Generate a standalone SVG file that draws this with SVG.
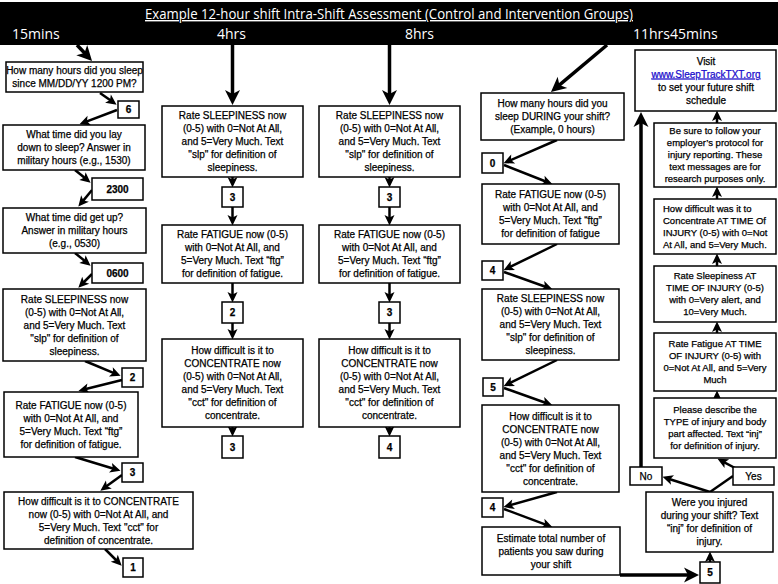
<svg xmlns="http://www.w3.org/2000/svg" width="778" height="584" viewBox="0 0 778 584">
<defs>
<style>
.box{fill:#fff;stroke:#000;stroke-width:1.5}
text{font-family:"Liberation Sans",Arial,sans-serif;font-size:10px;fill:#000;stroke:#000;stroke-width:0.25}
.m{text-anchor:middle}
.s{font-size:9.5px}
.n{font-weight:bold;text-anchor:middle}
.h{font-family:"Open Sans","Liberation Sans",sans-serif;fill:#fff;stroke:none;font-size:14px}
.c{stroke:#000;stroke-width:2.5;fill:none;marker-end:url(#as)}
.cb{stroke:#000;stroke-width:3.5;fill:none;marker-end:url(#ab)}
.ln{stroke:#000;stroke-width:2.5;fill:none}
</style>
<marker id="ab" markerUnits="userSpaceOnUse" markerWidth="17" markerHeight="17" viewBox="0 0 17 17" refX="11" refY="8.5" orient="auto"><path d="M1,1 L16,8.5 L1,16 L5,8.5 Z" fill="#000"/></marker>
<marker id="as" markerUnits="userSpaceOnUse" markerWidth="11" markerHeight="11" viewBox="0 0 11 11" refX="6.5" refY="5.5" orient="auto"><path d="M0.5,0.5 L11,5.5 L0.5,10.5 L3,5.5 Z" fill="#000"/></marker>
</defs>
<rect x="0" y="0" width="778" height="584" fill="#fff"/>
<g id="header">
<rect x="0" y="2" width="778" height="43" fill="#000"/>
<text class="h" x="389" y="19" text-anchor="middle" textLength="488" lengthAdjust="spacingAndGlyphs" text-decoration="underline">Example 12-hour shift Intra-Shift Assessment (Control and Intervention Groups)</text>
<text class="h" x="12" y="39">15mins</text>
<text class="h" x="217" y="39">4hrs</text>
<text class="h" x="405" y="39">8hrs</text>
<text class="h" x="633" y="39">11hrs45mins</text>
</g>
<g id="connectors">
<line class="cb" x1="77" y1="45" x2="88.6" y2="57.3"/>
<line class="cb" x1="232.5" y1="45" x2="232.5" y2="100"/>
<line class="cb" x1="389.5" y1="45" x2="389.5" y2="100"/>
<line class="cb" x1="607" y1="45" x2="554.8" y2="88.8"/>
<line class="c" x1="100" y1="93" x2="112.9" y2="102.1"/>
<line class="c" x1="117" y1="110" x2="83.7" y2="122.6"/>
<line class="c" x1="75" y1="170" x2="87.1" y2="179.8"/>
<line class="c" x1="92" y1="190" x2="81.2" y2="203.1"/>
<line class="c" x1="75" y1="253" x2="87.1" y2="262.8"/>
<line class="c" x1="92" y1="274" x2="81.5" y2="284.5"/>
<line class="c" x1="85" y1="361" x2="116.4" y2="374.1"/>
<line class="c" x1="122" y1="380" x2="82.8" y2="389.8"/>
<line class="c" x1="75" y1="457" x2="116.2" y2="469.5"/>
<line class="c" x1="122" y1="475" x2="104" y2="488.1"/>
<line class="c" x1="105" y1="549" x2="118.5" y2="562.5"/>
<line class="c" x1="232.5" y1="177" x2="232.5" y2="183"/>
<line class="c" x1="232.5" y1="207" x2="232.5" y2="221"/>
<line class="c" x1="232.5" y1="283" x2="232.5" y2="298"/>
<line class="c" x1="232.5" y1="323" x2="232.5" y2="335"/>
<line class="c" x1="232.5" y1="427" x2="232.5" y2="432"/>
<line class="c" x1="389.5" y1="177" x2="389.5" y2="183"/>
<line class="c" x1="389.5" y1="207" x2="389.5" y2="221"/>
<line class="c" x1="389.5" y1="283" x2="389.5" y2="298"/>
<line class="c" x1="389.5" y1="323" x2="389.5" y2="335"/>
<line class="c" x1="389.5" y1="427" x2="389.5" y2="432"/>
<line class="c" x1="557" y1="140" x2="507.7" y2="161.4"/>
<line class="c" x1="504" y1="165" x2="548.3" y2="182.5"/>
<line class="c" x1="557" y1="244" x2="507.6" y2="268.2"/>
<line class="c" x1="504" y1="272" x2="548.2" y2="287.7"/>
<line class="c" x1="557" y1="360" x2="507.6" y2="384.2"/>
<line class="c" x1="504" y1="388" x2="548.2" y2="403.7"/>
<line class="c" x1="557" y1="492" x2="507.8" y2="505.9"/>
<line class="c" x1="504" y1="509" x2="548.3" y2="525.6"/>
<line class="cb" x1="620" y1="575" x2="694" y2="575"/>
<line class="c" x1="710" y1="562" x2="710" y2="556"/>
<line class="c" x1="710" y1="492" x2="666.8" y2="478.2"/>
<line class="ln" x1="710" y1="492" x2="733" y2="476"/>
<line class="c" x1="735" y1="468" x2="721.5" y2="460.9"/>
<line class="cb" x1="641" y1="467" x2="641" y2="117"/>
<line class="c" x1="717" y1="398" x2="717" y2="395"/>
<line class="c" x1="717" y1="333" x2="717" y2="326"/>
<line class="c" x1="717" y1="266" x2="717" y2="258"/>
<line class="c" x1="717" y1="199" x2="717" y2="191"/>
<line class="c" x1="717" y1="123" x2="717" y2="115"/>
</g>
<g id="l1"><rect class="box" x="6" y="62" width="137" height="30"/><text class="m" x="74.5" y="74">How many hours did you sleep</text><text class="m" x="74.5" y="87">since MM/DD/YY 1200 PM?</text></g>
<g id="l1a"><rect class="box" x="118" y="101" width="21" height="17"/><text class="n" x="128.5" y="113">6</text></g>
<g id="l2"><rect class="box" x="3" y="125" width="142" height="45"/><text class="m" x="74" y="138">What time did you lay</text><text class="m" x="74" y="151">down to sleep? Answer in</text><text class="m" x="74" y="164">military hours (e.g., 1530)</text></g>
<g id="l2a"><rect class="box" x="92" y="178" width="51" height="22"/><text class="n" x="117.5" y="192.5">2300</text></g>
<g id="l3"><rect class="box" x="3" y="208" width="143" height="45"/><text class="m" x="74.5" y="221">What time did get up?</text><text class="m" x="74.5" y="234">Answer in military hours</text><text class="m" x="74.5" y="247">(e.g., 0530)</text></g>
<g id="l3a"><rect class="box" x="92" y="263" width="51" height="20"/><text class="n" x="117.5" y="276.5">0600</text></g>
<g id="l4"><rect class="box" x="3" y="289" width="143" height="72"/><text class="m" x="74.5" y="302.5">Rate SLEEPINESS now</text><text class="m" x="74.5" y="315.5">(0-5) with 0=Not At All,</text><text class="m" x="74.5" y="328.5">and 5=Very Much. Text</text><text class="m" x="74.5" y="341.5">"slp" for definition of</text><text class="m" x="74.5" y="354.5">sleepiness.</text></g>
<g id="l4a"><rect class="box" x="122" y="368" width="21" height="19"/><text class="n" x="132.5" y="381">2</text></g>
<g id="l5"><rect class="box" x="4" y="392" width="134" height="65"/><text class="m" x="71" y="408.5">Rate FATIGUE now (0-5)</text><text class="m" x="71" y="421.5">with 0=Not At All, and</text><text class="m" x="71" y="434.5">5=Very Much. Text “ftg”</text><text class="m" x="71" y="447.5">for definition of fatigue.</text></g>
<g id="l5a"><rect class="box" x="122" y="463" width="21" height="19"/><text class="n" x="132.5" y="476">3</text></g>
<g id="l6"><rect class="box" x="4" y="492" width="189" height="57"/><text class="m" x="98.5" y="504.5">How difficult is it to CONCENTRATE</text><text class="m" x="98.5" y="517.5">now (0-5) with 0=Not At All, and</text><text class="m" x="98.5" y="530.5">5=Very Much. Text "cct" for</text><text class="m" x="98.5" y="543.5">definition of concentrate.</text></g>
<g id="l6a"><rect class="box" x="123" y="558" width="20" height="19"/><text class="n" x="133" y="571">1</text></g>
<g id="a1"><rect class="box" x="162" y="106" width="141" height="71"/><text class="m" x="232.5" y="119">Rate SLEEPINESS now</text><text class="m" x="232.5" y="132">(0-5) with 0=Not At All,</text><text class="m" x="232.5" y="145">and 5=Very Much. Text</text><text class="m" x="232.5" y="158">"slp" for definition of</text><text class="m" x="232.5" y="171">sleepiness.</text></g>
<g id="a1a"><rect class="box" x="222" y="187" width="21" height="20"/><text class="n" x="232.5" y="200.5">3</text></g>
<g id="a2"><rect class="box" x="162" y="225" width="141" height="58"/><text class="m" x="232.5" y="238">Rate FATIGUE now (0-5)</text><text class="m" x="232.5" y="251">with 0=Not At All, and</text><text class="m" x="232.5" y="264">5=Very Much. Text “ftg”</text><text class="m" x="232.5" y="277">for definition of fatigue.</text></g>
<g id="a2a"><rect class="box" x="222" y="302" width="21" height="21"/><text class="n" x="232.5" y="316">2</text></g>
<g id="a3"><rect class="box" x="162" y="339" width="141" height="88"/><text class="m" x="232.5" y="354">How difficult is it to</text><text class="m" x="232.5" y="367">CONCENTRATE now</text><text class="m" x="232.5" y="380">(0-5) with 0=Not At All,</text><text class="m" x="232.5" y="393">and 5=Very Much. Text</text><text class="m" x="232.5" y="406">"cct" for definition of</text><text class="m" x="232.5" y="419">concentrate.</text></g>
<g id="a3a"><rect class="box" x="222" y="436" width="21" height="22"/><text class="n" x="232.5" y="450.5">3</text></g>
<g id="b1"><rect class="box" x="319" y="106" width="141" height="71"/><text class="m" x="389.5" y="119">Rate SLEEPINESS now</text><text class="m" x="389.5" y="132">(0-5) with 0=Not At All,</text><text class="m" x="389.5" y="145">and 5=Very Much. Text</text><text class="m" x="389.5" y="158">"slp" for definition of</text><text class="m" x="389.5" y="171">sleepiness.</text></g>
<g id="b1a"><rect class="box" x="379" y="187" width="21" height="20"/><text class="n" x="389.5" y="200.5">3</text></g>
<g id="b2"><rect class="box" x="319" y="225" width="141" height="58"/><text class="m" x="389.5" y="238">Rate FATIGUE now (0-5)</text><text class="m" x="389.5" y="251">with 0=Not At All, and</text><text class="m" x="389.5" y="264">5=Very Much. Text “ftg”</text><text class="m" x="389.5" y="277">for definition of fatigue.</text></g>
<g id="b2a"><rect class="box" x="379" y="302" width="21" height="21"/><text class="n" x="389.5" y="316">3</text></g>
<g id="b3"><rect class="box" x="319" y="339" width="141" height="88"/><text class="m" x="389.5" y="354">How difficult is it to</text><text class="m" x="389.5" y="367">CONCENTRATE now</text><text class="m" x="389.5" y="380">(0-5) with 0=Not At All,</text><text class="m" x="389.5" y="393">and 5=Very Much. Text</text><text class="m" x="389.5" y="406">"cct" for definition of</text><text class="m" x="389.5" y="419">concentrate.</text></g>
<g id="b3a"><rect class="box" x="379" y="436" width="21" height="22"/><text class="n" x="389.5" y="450.5">4</text></g>
<g id="c1"><rect class="box" x="481" y="93" width="143" height="47"/><text class="m" x="552.5" y="107">How many hours did you</text><text class="m" x="552.5" y="120">sleep DURING your shift?</text><text class="m" x="552.5" y="133">(Example, 0 hours)</text></g>
<g id="c1a"><rect class="box" x="482" y="153" width="21" height="20"/><text class="n" x="492.5" y="166.5">0</text></g>
<g id="c2"><rect class="box" x="482" y="184" width="137" height="60"/><text class="m" x="550.5" y="198">Rate FATIGUE now (0-5)</text><text class="m" x="550.5" y="211">with 0=Not At All, and</text><text class="m" x="550.5" y="224">5=Very Much. Text “ftg”</text><text class="m" x="550.5" y="237">for definition of fatigue</text></g>
<g id="c2a"><rect class="box" x="482" y="261" width="21" height="19"/><text class="n" x="492.5" y="274">4</text></g>
<g id="c3"><rect class="box" x="482" y="289" width="137" height="71"/><text class="m" x="550.5" y="302">Rate SLEEPINESS now</text><text class="m" x="550.5" y="315">(0-5) with 0=Not At All,</text><text class="m" x="550.5" y="328">and 5=Very Much. Text</text><text class="m" x="550.5" y="341">"slp" for definition of</text><text class="m" x="550.5" y="354">sleepiness.</text></g>
<g id="c3a"><rect class="box" x="483" y="378" width="20" height="18"/><text class="n" x="493" y="390.5">5</text></g>
<g id="c4"><rect class="box" x="482" y="405" width="137" height="87"/><text class="m" x="550.5" y="419.5">How difficult is it to</text><text class="m" x="550.5" y="432.5">CONCENTRATE now</text><text class="m" x="550.5" y="445.5">(0-5) with 0=Not At All,</text><text class="m" x="550.5" y="458.5">and 5=Very Much. Text</text><text class="m" x="550.5" y="471.5">"cct" for definition of</text><text class="m" x="550.5" y="484.5">concentrate.</text></g>
<g id="c4a"><rect class="box" x="482" y="498" width="21" height="19"/><text class="n" x="492.5" y="511">4</text></g>
<g id="c5"><rect class="box" x="482" y="527" width="138" height="48"/><text class="m" x="551" y="541.5">Estimate total number of</text><text class="m" x="551" y="554.5">patients you saw during</text><text class="m" x="551" y="567.5">your shift</text></g>
<g id="r5"><rect class="box" x="700" y="562" width="20" height="21"/><text class="n" x="710" y="576">5</text></g>
<g id="rinj"><rect class="box" x="646" y="492" width="127" height="60"/><text class="m" x="709.5" y="506">Were you injured</text><text class="m" x="709.5" y="519">during your shift? Text</text><text class="m" x="709.5" y="532">“inj” for definition of</text><text class="m" x="709.5" y="545">injury.</text></g>
<g id="rno"><rect class="box" x="630" y="467" width="32" height="18"/><text class="m" x="646" y="479.5">No</text></g>
<g id="ryes"><rect class="box" x="733" y="467" width="41" height="18"/><text class="m" x="753.5" y="479.5">Yes</text></g>
<g id="rdesc"><rect class="box" x="654" y="398" width="122" height="60"/><text class="m s" x="715" y="413.3">Please describe the</text><text class="m s" x="715" y="425.3">TYPE of injury and body</text><text class="m s" x="715" y="437.3">part affected. Text “inj”</text><text class="m s" x="715" y="449.3">for definition of injury.</text></g>
<g id="rfat"><rect class="box" x="654" y="333" width="122" height="58"/><text class="m s" x="715" y="347.3">Rate Fatigue AT TIME</text><text class="m s" x="715" y="359.3">OF INJURY (0-5) with</text><text class="m s" x="715" y="371.3">0=Not At All, and 5=Very</text><text class="m s" x="715" y="383.3">Much</text></g>
<g id="rslp"><rect class="box" x="654" y="266" width="122" height="56"/><text class="m s" x="715" y="279.3">Rate Sleepiness AT</text><text class="m s" x="715" y="291.3">TIME OF INJURY (0-5)</text><text class="m s" x="715" y="303.3">with 0=Very alert, and</text><text class="m s" x="715" y="315.3">10=Very Much.</text></g>
<g id="rcon"><rect class="box" x="654" y="199" width="122" height="55"/><text class="s" x="663" y="211.8">How difficult was it to</text><text class="s" x="663" y="223.8">Concentrate AT TIME Of</text><text class="s" x="663" y="235.8">INJURY (0-5) with 0=Not</text><text class="s" x="663" y="247.8">At All, and 5=Very Much.</text></g>
<g id="rsure"><rect class="box" x="654" y="123" width="122" height="64"/><text class="m s" x="715" y="134.3">Be sure to follow your</text><text class="m s" x="715" y="146.3">employer’s protocol for</text><text class="m s" x="715" y="158.3">injury reporting. These</text><text class="m s" x="715" y="170.3">text messages are for</text><text class="m s" x="715" y="182.3">research purposes only.</text></g>
<g id="rvisit"><rect class="box" x="635" y="50" width="141" height="61"/><text class="m" x="706" y="64.5">Visit</text><text class="m" x="706" y="77.5" style="fill:#1a0dcc;stroke:#1a0dcc" text-decoration="underline">www.SleepTrackTXT.org</text><text class="m" x="706" y="90.5">to set your future shift</text><text class="m" x="706" y="103.5">schedule</text></g>
</svg>
